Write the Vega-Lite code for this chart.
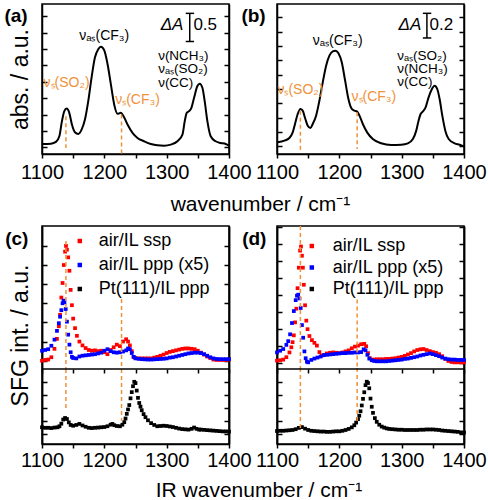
{
"$schema": "https://vega.github.io/schema/vega-lite/v6.json",
"background": "white",
"padding": {"left": 3, "top": 3, "right": 0, "bottom": 0},
"config": {
  "font": "Liberation Sans",
  "view": {"stroke": "black", "strokeWidth": 1.5},
  "axis": {"grid": false, "domainColor": "black", "domainWidth": 1.5, "tickColor": "black", "tickWidth": 1.5, "labelColor": "black", "titleColor": "black", "titleFontWeight": "normal", "labelFont": "Liberation Sans", "titleFont": "Liberation Sans"},
  "text": {"font": "Liberation Sans"}
},
"resolve": {"scale": {"color": "independent"}, "legend": {"color": "independent"}},
"bounds": "flush",
"columns": 2,
"spacing": {"row": 72, "column": 48},
"concat": [
 {
  "width": 187, "height": 150,
  "encoding": {"x": {"field": "x", "type": "quantitative", "scale": {"domain": [1100, 1400]},
     "axis": {"orient": "bottom", "values": [1100,1150,1200,1250,1300,1350,1400], "format": "d", "labelExpr": "datum.value % 100 === 0 ? datum.label : ''", "tickSize": 4, "labelFontSize": 20, "labelPadding": 4, "labelFlush": false, "labelOverlap": false, "labelBound": false, "title": "wavenumber / cm⁻¹", "titleFontSize": 21, "titleX": 218, "titlePadding": 11}}},
  "layer": [
   {"data": {"values": [{"x":1101,"y":0.102},{"x":1114.4,"y":0.112},{"x":1122.4,"y":0.164},{"x":1127.8,"y":0.337},{"x":1132,"y":0.798},{"x":1135.8,"y":1.104},{"x":1139.5,"y":1.186},{"x":1143.8,"y":1.053},{"x":1148,"y":0.695},{"x":1152.8,"y":0.46},{"x":1158.2,"y":0.409},{"x":1163.5,"y":0.542},{"x":1168.9,"y":0.849},{"x":1174.2,"y":1.411},{"x":1179.5,"y":2.127},{"x":1184.9,"y":2.74},{"x":1190.2,"y":2.996},{"x":1194.5,"y":3.067},{"x":1199.8,"y":2.965},{"x":1205.2,"y":2.536},{"x":1210.5,"y":1.922},{"x":1215.8,"y":1.309},{"x":1221.2,"y":1.022},{"x":1226.5,"y":1.053},{"x":1230.8,"y":0.951},{"x":1237.2,"y":0.695},{"x":1245.2,"y":0.44},{"x":1253.2,"y":0.286},{"x":1263.9,"y":0.184},{"x":1274.6,"y":0.102},{"x":1285.2,"y":0.061},{"x":1295.9,"y":0.051},{"x":1306.6,"y":0.082},{"x":1317.3,"y":0.184},{"x":1325.3,"y":0.389},{"x":1329,"y":0.798},{"x":1332.2,"y":1.053},{"x":1335.9,"y":1.104},{"x":1339.7,"y":1.207},{"x":1344,"y":1.513},{"x":1349.3,"y":1.871},{"x":1353,"y":1.943},{"x":1357.3,"y":1.82},{"x":1361,"y":1.411},{"x":1365.3,"y":0.798},{"x":1370.6,"y":0.337},{"x":1378.6,"y":0.184},{"x":1386.7,"y":0.133},{"x":1394.7,"y":0.102},{"x":1400,"y":0.051}]},
    "mark": {"type": "line", "color": "black", "strokeWidth": 2, "interpolate": "monotone"},
    "encoding": {"y": {"field": "y", "type": "quantitative", "scale": {"domain": [-0.2045, 4.376]}, "axis": {"orient": "left", "labels": false, "tickSize": -5, "values": [0,0.5,1,1.5,2,2.5,3,3.5,4], "title": "abs. / a.u.", "titleFontSize": 23, "titlePadding": 9}}}},
   {"data": {"values": [{"x":1138.4,"y":0.951,"y2":-0.02},{"x":1227.6,"y":1.002,"y2":-0.2045}]},
    "mark": {"type": "rule", "color": "#F0923A", "strokeWidth": 1.5, "strokeDash": [4, 3]},
    "encoding": {"y": {"field": "y", "type": "quantitative", "scale": {"domain": [-0.2045, 4.376]}, "axis": {"orient": "right", "labels": false, "tickSize": -5, "values": [0,0.5,1,1.5,2,2.5,3,3.5,4], "title": null}}, "y2": {"field": "y2"}}},
   {"data": {"values": [{"x":1139.5,"y":1.973,"t":"νₛ(SO₂)"},{"x":1253.2,"y":1.431,"t":"νₛ(CF₃)"}]},
    "mark": {"type": "text", "color": "#F0923A", "fontSize": 14, "align": "center", "baseline": "middle"},
    "encoding": {"y": {"field": "y", "type": "quantitative", "scale": {"domain": [-0.2045, 4.376]}, "axis": null}, "text": {"field": "t"}}},
   {"data": {"values": [{"x":1199.8,"y":3.405,"t":"νₐₛ(CF₃)"}]},
    "mark": {"type": "text", "color": "black", "fontSize": 14, "align": "center", "baseline": "middle"},
    "encoding": {"y": {"field": "y", "type": "quantitative", "scale": {"domain": [-0.2045, 4.376]}, "axis": null}, "text": {"field": "t"}}},
   {"data": {"values": [{"x":1286.3,"y":2.791,"t":"ν(NCH₃)"},{"x":1286.3,"y":2.382,"t":"νₐₛ(SO₂)"},{"x":1286.3,"y":1.973,"t":"ν(CC)"}]},
    "mark": {"type": "text", "color": "black", "fontSize": 13.5, "align": "left", "baseline": "middle"},
    "encoding": {"y": {"field": "y", "type": "quantitative", "scale": {"domain": [-0.2045, 4.376]}, "axis": null}, "text": {"field": "t"}}},
   {"data": {"values": [{"x":1326.9,"y":3.74,"t":"ΔA"}]},
    "mark": {"type": "text", "color": "black", "fontSize": 17, "fontStyle": "italic", "align": "right", "baseline": "middle"},
    "encoding": {"y": {"field": "y", "type": "quantitative", "scale": {"domain": [-0.2045, 4.376]}, "axis": null}, "text": {"field": "t"}}},
   {"data": {"values": [{"x":1342.9,"y":3.74,"t":"0.5"}]},
    "mark": {"type": "text", "color": "black", "fontSize": 17, "align": "left", "baseline": "middle"},
    "encoding": {"y": {"field": "y", "type": "quantitative", "scale": {"domain": [-0.2045, 4.376]}, "axis": null}, "text": {"field": "t"}}},
   {"data": {"values": [{"x":1337,"y":4.09,"y2":3.231}]},
    "mark": {"type": "rule", "color": "black", "strokeWidth": 1.5},
    "encoding": {"y": {"field": "y", "type": "quantitative", "scale": {"domain": [-0.2045, 4.376]}, "axis": null}, "y2": {"field": "y2"}}},
   {"data": {"values": [{"x":1330.6,"x2":1344,"y":4.09},{"x":1330.6,"x2":1344,"y":3.231}]},
    "mark": {"type": "rule", "color": "black", "strokeWidth": 1.5},
    "encoding": {"y": {"field": "y", "type": "quantitative", "scale": {"domain": [-0.2045, 4.376]}, "axis": null}, "x2": {"field": "x2"}}},
   {"data": {"values": [{"x":1058.3,"y":4.018,"t":"(a)"}]},
    "mark": {"type": "text", "color": "black", "fontSize": 19, "fontWeight": "bold", "align": "center", "baseline": "middle"},
    "encoding": {"y": {"field": "y", "type": "quantitative", "scale": {"domain": [-0.2045, 4.376]}, "axis": null}, "text": {"field": "t"}}}
  ],
  "resolve": {"axis": {"y": "independent"}}
 },
 {
  "width": 187, "height": 150,
  "encoding": {"x": {"field": "x", "type": "quantitative", "scale": {"domain": [1100, 1400]},
     "axis": {"orient": "bottom", "values": [1100,1150,1200,1250,1300,1350,1400], "format": "d", "labelExpr": "datum.value % 100 === 0 ? datum.label : ''", "tickSize": 4, "labelFontSize": 20, "labelPadding": 4, "labelFlush": false, "labelOverlap": false, "labelBound": false, "title": null}}},
  "layer": [
   {"data": {"values": [{"x":1101.1,"y":0.056},{"x":1111.8,"y":0.079},{"x":1119.8,"y":0.116},{"x":1125.2,"y":0.195},{"x":1128.9,"y":0.312},{"x":1133.2,"y":0.451},{"x":1137.5,"y":0.521},{"x":1141.2,"y":0.498},{"x":1145.5,"y":0.381},{"x":1149.3,"y":0.288},{"x":1153.6,"y":0.256},{"x":1157.3,"y":0.312},{"x":1162.7,"y":0.428},{"x":1168,"y":0.637},{"x":1173.4,"y":0.893},{"x":1178.8,"y":1.126},{"x":1184.1,"y":1.265},{"x":1189.5,"y":1.326},{"x":1193.7,"y":1.335},{"x":1198.6,"y":1.298},{"x":1203.9,"y":1.172},{"x":1209.3,"y":0.916},{"x":1214.6,"y":0.66},{"x":1220,"y":0.521},{"x":1224.3,"y":0.498},{"x":1228.6,"y":0.484},{"x":1232.3,"y":0.428},{"x":1237.7,"y":0.312},{"x":1244.6,"y":0.195},{"x":1253.7,"y":0.102},{"x":1267.1,"y":0.042},{"x":1283.2,"y":0.019},{"x":1299.3,"y":0.023},{"x":1310,"y":0.042},{"x":1318,"y":0.102},{"x":1323.4,"y":0.219},{"x":1327.1,"y":0.358},{"x":1330.4,"y":0.451},{"x":1334.1,"y":0.488},{"x":1338.4,"y":0.544},{"x":1343.2,"y":0.684},{"x":1348.6,"y":0.8},{"x":1352.9,"y":0.847},{"x":1357.1,"y":0.8},{"x":1360.9,"y":0.66},{"x":1365.2,"y":0.428},{"x":1370,"y":0.219},{"x":1375.4,"y":0.102},{"x":1385,"y":0.042},{"x":1393,"y":0.023},{"x":1400,"y":0.0}]},
    "mark": {"type": "line", "color": "black", "strokeWidth": 2, "interpolate": "monotone"},
    "encoding": {"y": {"field": "y", "type": "quantitative", "scale": {"domain": [-0.107, 1.986]}, "axis": {"orient": "left", "labels": false, "tickSize": -5, "values": [0,0.2,0.4,0.6,0.8,1,1.2,1.4,1.6,1.8], "title": null}}}},
   {"data": {"values": [{"x":1137.5,"y":0.498,"y2":-0.047},{"x":1228.6,"y":0.474,"y2":-0.037}]},
    "mark": {"type": "rule", "color": "#F0923A", "strokeWidth": 1.5, "strokeDash": [4, 3]},
    "encoding": {"y": {"field": "y", "type": "quantitative", "scale": {"domain": [-0.107, 1.986]}, "axis": {"orient": "right", "labels": false, "tickSize": -5, "values": [0,0.2,0.4,0.6,0.8,1,1.2,1.4,1.6,1.8], "title": null}}, "y2": {"field": "y2"}}},
   {"data": {"values": [{"x":1137.5,"y":0.786,"t":"νₛ(SO₂)"},{"x":1255.4,"y":0.684,"t":"νₛ(CF₃)"}]},
    "mark": {"type": "text", "color": "#F0923A", "fontSize": 14, "align": "center", "baseline": "middle"},
    "encoding": {"y": {"field": "y", "type": "quantitative", "scale": {"domain": [-0.107, 1.986]}, "axis": null}, "text": {"field": "t"}}},
   {"data": {"values": [{"x":1197.5,"y":1.474,"t":"νₐₛ(CF₃)"}]},
    "mark": {"type": "text", "color": "black", "fontSize": 14, "align": "center", "baseline": "middle"},
    "encoding": {"y": {"field": "y", "type": "quantitative", "scale": {"domain": [-0.107, 1.986]}, "axis": null}, "text": {"field": "t"}}},
   {"data": {"values": [{"x":1292.9,"y":1.265,"t":"νₐₛ(SO₂)"},{"x":1292.9,"y":1.079,"t":"ν(NCH₃)"},{"x":1292.9,"y":0.902,"t":"ν(CC)"}]},
    "mark": {"type": "text", "color": "black", "fontSize": 13.5, "align": "left", "baseline": "middle"},
    "encoding": {"y": {"field": "y", "type": "quantitative", "scale": {"domain": [-0.107, 1.986]}, "axis": null}, "text": {"field": "t"}}},
   {"data": {"values": [{"x":1331.4,"y":1.698,"t":"ΔA"}]},
    "mark": {"type": "text", "color": "black", "fontSize": 17, "fontStyle": "italic", "align": "right", "baseline": "middle"},
    "encoding": {"y": {"field": "y", "type": "quantitative", "scale": {"domain": [-0.107, 1.986]}, "axis": null}, "text": {"field": "t"}}},
   {"data": {"values": [{"x":1344.8,"y":1.698,"t":"0.2"}]},
    "mark": {"type": "text", "color": "black", "fontSize": 17, "align": "left", "baseline": "middle"},
    "encoding": {"y": {"field": "y", "type": "quantitative", "scale": {"domain": [-0.107, 1.986]}, "axis": null}, "text": {"field": "t"}}},
   {"data": {"values": [{"x":1340.5,"y":1.856,"y2":1.512}]},
    "mark": {"type": "rule", "color": "black", "strokeWidth": 1.5},
    "encoding": {"y": {"field": "y", "type": "quantitative", "scale": {"domain": [-0.107, 1.986]}, "axis": null}, "y2": {"field": "y2"}}},
   {"data": {"values": [{"x":1334,"x2":1347.5,"y":1.856},{"x":1334,"x2":1347.5,"y":1.512}]},
    "mark": {"type": "rule", "color": "black", "strokeWidth": 1.5},
    "encoding": {"y": {"field": "y", "type": "quantitative", "scale": {"domain": [-0.107, 1.986]}, "axis": null}, "x2": {"field": "x2"}}},
   {"data": {"values": [{"x":1062.3,"y":1.823,"t":"(b)"}]},
    "mark": {"type": "text", "color": "black", "fontSize": 19, "fontWeight": "bold", "align": "center", "baseline": "middle"},
    "encoding": {"y": {"field": "y", "type": "quantitative", "scale": {"domain": [-0.107, 1.986]}, "axis": null}, "text": {"field": "t"}}}
  ],
  "resolve": {"axis": {"y": "independent"}}
 },
 {
  "width": 187, "height": 218,
  "layer": [
    {"data": {"values": [
{"x":1100,"y":0.0,"s":"air/IL ssp"},{"x":1105,"y":0.02,"s":"air/IL ssp"},{"x":1110,"y":0.03,"s":"air/IL ssp"},{"x":1115,"y":0.09,"s":"air/IL ssp"},{"x":1120,"y":0.31,"s":"air/IL ssp"},{"x":1124,"y":0.57,"s":"air/IL ssp"},{"x":1127,"y":0.9,"s":"air/IL ssp"},{"x":1129,"y":1.2,"s":"air/IL ssp"},{"x":1131,"y":1.65,"s":"air/IL ssp"},{"x":1133,"y":2.03,"s":"air/IL ssp"},{"x":1135,"y":2.5,"s":"air/IL ssp"},{"x":1137,"y":2.85,"s":"air/IL ssp"},{"x":1138.5,"y":3.0,"s":"air/IL ssp"},{"x":1140,"y":2.9,"s":"air/IL ssp"},{"x":1142,"y":2.7,"s":"air/IL ssp"},{"x":1144,"y":2.35,"s":"air/IL ssp"},{"x":1146,"y":1.85,"s":"air/IL ssp"},{"x":1148,"y":1.45,"s":"air/IL ssp"},{"x":1150,"y":1.1,"s":"air/IL ssp"},{"x":1153,"y":0.85,"s":"air/IL ssp"},{"x":1156,"y":0.65,"s":"air/IL ssp"},{"x":1160,"y":0.5,"s":"air/IL ssp"},{"x":1165,"y":0.4,"s":"air/IL ssp"},{"x":1170,"y":0.33,"s":"air/IL ssp"},{"x":1175,"y":0.28,"s":"air/IL ssp"},{"x":1180,"y":0.26,"s":"air/IL ssp"},{"x":1185,"y":0.27,"s":"air/IL ssp"},{"x":1190,"y":0.25,"s":"air/IL ssp"},{"x":1195,"y":0.26,"s":"air/IL ssp"},{"x":1200,"y":0.22,"s":"air/IL ssp"},{"x":1205,"y":0.17,"s":"air/IL ssp"},{"x":1210,"y":0.28,"s":"air/IL ssp"},{"x":1215,"y":0.35,"s":"air/IL ssp"},{"x":1220,"y":0.42,"s":"air/IL ssp"},{"x":1225,"y":0.38,"s":"air/IL ssp"},{"x":1230,"y":0.5,"s":"air/IL ssp"},{"x":1235,"y":0.56,"s":"air/IL ssp"},{"x":1238,"y":0.5,"s":"air/IL ssp"},{"x":1241,"y":0.4,"s":"air/IL ssp"},{"x":1244,"y":0.25,"s":"air/IL ssp"},{"x":1247,"y":0.1,"s":"air/IL ssp"},{"x":1250,"y":0.07,"s":"air/IL ssp"},{"x":1255,"y":0.06,"s":"air/IL ssp"},{"x":1260,"y":0.06,"s":"air/IL ssp"},{"x":1265,"y":0.06,"s":"air/IL ssp"},{"x":1270,"y":0.06,"s":"air/IL ssp"},{"x":1275,"y":0.06,"s":"air/IL ssp"},{"x":1280,"y":0.08,"s":"air/IL ssp"},{"x":1285,"y":0.1,"s":"air/IL ssp"},{"x":1290,"y":0.13,"s":"air/IL ssp"},{"x":1295,"y":0.16,"s":"air/IL ssp"},{"x":1300,"y":0.2,"s":"air/IL ssp"},{"x":1305,"y":0.23,"s":"air/IL ssp"},{"x":1310,"y":0.25,"s":"air/IL ssp"},{"x":1315,"y":0.27,"s":"air/IL ssp"},{"x":1320,"y":0.29,"s":"air/IL ssp"},{"x":1325,"y":0.31,"s":"air/IL ssp"},{"x":1330,"y":0.32,"s":"air/IL ssp"},{"x":1335,"y":0.32,"s":"air/IL ssp"},{"x":1340,"y":0.31,"s":"air/IL ssp"},{"x":1345,"y":0.3,"s":"air/IL ssp"},{"x":1350,"y":0.26,"s":"air/IL ssp"},{"x":1355,"y":0.21,"s":"air/IL ssp"},{"x":1360,"y":0.16,"s":"air/IL ssp"},{"x":1365,"y":0.11,"s":"air/IL ssp"},{"x":1370,"y":0.07,"s":"air/IL ssp"},{"x":1375,"y":0.03,"s":"air/IL ssp"},{"x":1380,"y":0.02,"s":"air/IL ssp"},{"x":1385,"y":0.02,"s":"air/IL ssp"},{"x":1390,"y":0.02,"s":"air/IL ssp"},{"x":1395,"y":0.02,"s":"air/IL ssp"},{"x":1400,"y":0.03,"s":"air/IL ssp"},
{"x":1100,"y":0.26,"s":"air/IL ppp (x5)"},{"x":1105,"y":0.28,"s":"air/IL ppp (x5)"},{"x":1110,"y":0.3,"s":"air/IL ppp (x5)"},{"x":1115,"y":0.39,"s":"air/IL ppp (x5)"},{"x":1120,"y":0.55,"s":"air/IL ppp (x5)"},{"x":1124,"y":0.78,"s":"air/IL ppp (x5)"},{"x":1127,"y":0.98,"s":"air/IL ppp (x5)"},{"x":1129,"y":1.15,"s":"air/IL ppp (x5)"},{"x":1131,"y":1.32,"s":"air/IL ppp (x5)"},{"x":1133,"y":1.5,"s":"air/IL ppp (x5)"},{"x":1134.5,"y":1.57,"s":"air/IL ppp (x5)"},{"x":1136,"y":1.53,"s":"air/IL ppp (x5)"},{"x":1138,"y":1.35,"s":"air/IL ppp (x5)"},{"x":1140,"y":1.02,"s":"air/IL ppp (x5)"},{"x":1142,"y":0.68,"s":"air/IL ppp (x5)"},{"x":1144,"y":0.42,"s":"air/IL ppp (x5)"},{"x":1146,"y":0.22,"s":"air/IL ppp (x5)"},{"x":1148,"y":0.1,"s":"air/IL ppp (x5)"},{"x":1150,"y":0.07,"s":"air/IL ppp (x5)"},{"x":1155,"y":0.06,"s":"air/IL ppp (x5)"},{"x":1160,"y":0.11,"s":"air/IL ppp (x5)"},{"x":1165,"y":0.13,"s":"air/IL ppp (x5)"},{"x":1170,"y":0.14,"s":"air/IL ppp (x5)"},{"x":1175,"y":0.15,"s":"air/IL ppp (x5)"},{"x":1180,"y":0.16,"s":"air/IL ppp (x5)"},{"x":1185,"y":0.17,"s":"air/IL ppp (x5)"},{"x":1190,"y":0.19,"s":"air/IL ppp (x5)"},{"x":1195,"y":0.21,"s":"air/IL ppp (x5)"},{"x":1200,"y":0.26,"s":"air/IL ppp (x5)"},{"x":1205,"y":0.3,"s":"air/IL ppp (x5)"},{"x":1210,"y":0.25,"s":"air/IL ppp (x5)"},{"x":1215,"y":0.22,"s":"air/IL ppp (x5)"},{"x":1220,"y":0.21,"s":"air/IL ppp (x5)"},{"x":1225,"y":0.22,"s":"air/IL ppp (x5)"},{"x":1230,"y":0.24,"s":"air/IL ppp (x5)"},{"x":1235,"y":0.27,"s":"air/IL ppp (x5)"},{"x":1238,"y":0.32,"s":"air/IL ppp (x5)"},{"x":1241,"y":0.3,"s":"air/IL ppp (x5)"},{"x":1244,"y":0.2,"s":"air/IL ppp (x5)"},{"x":1247,"y":0.1,"s":"air/IL ppp (x5)"},{"x":1250,"y":0.06,"s":"air/IL ppp (x5)"},{"x":1255,"y":0.05,"s":"air/IL ppp (x5)"},{"x":1260,"y":0.04,"s":"air/IL ppp (x5)"},{"x":1265,"y":0.035,"s":"air/IL ppp (x5)"},{"x":1270,"y":0.03,"s":"air/IL ppp (x5)"},{"x":1275,"y":0.03,"s":"air/IL ppp (x5)"},{"x":1280,"y":0.035,"s":"air/IL ppp (x5)"},{"x":1285,"y":0.04,"s":"air/IL ppp (x5)"},{"x":1290,"y":0.045,"s":"air/IL ppp (x5)"},{"x":1295,"y":0.05,"s":"air/IL ppp (x5)"},{"x":1300,"y":0.06,"s":"air/IL ppp (x5)"},{"x":1305,"y":0.08,"s":"air/IL ppp (x5)"},{"x":1310,"y":0.09,"s":"air/IL ppp (x5)"},{"x":1315,"y":0.11,"s":"air/IL ppp (x5)"},{"x":1320,"y":0.13,"s":"air/IL ppp (x5)"},{"x":1325,"y":0.15,"s":"air/IL ppp (x5)"},{"x":1330,"y":0.17,"s":"air/IL ppp (x5)"},{"x":1335,"y":0.19,"s":"air/IL ppp (x5)"},{"x":1340,"y":0.2,"s":"air/IL ppp (x5)"},{"x":1345,"y":0.21,"s":"air/IL ppp (x5)"},{"x":1350,"y":0.21,"s":"air/IL ppp (x5)"},{"x":1355,"y":0.2,"s":"air/IL ppp (x5)"},{"x":1360,"y":0.17,"s":"air/IL ppp (x5)"},{"x":1365,"y":0.13,"s":"air/IL ppp (x5)"},{"x":1370,"y":0.09,"s":"air/IL ppp (x5)"},{"x":1375,"y":0.06,"s":"air/IL ppp (x5)"},{"x":1380,"y":0.045,"s":"air/IL ppp (x5)"},{"x":1385,"y":0.04,"s":"air/IL ppp (x5)"},{"x":1390,"y":0.04,"s":"air/IL ppp (x5)"},{"x":1395,"y":0.04,"s":"air/IL ppp (x5)"},{"x":1400,"y":0.04,"s":"air/IL ppp (x5)"}
     ]},
     "mark": {"type": "point", "shape": "square", "filled": true, "size": 14, "opacity": 1},
     "encoding": {
       "x": {"field": "x", "type": "quantitative", "scale": {"domain": [1100, 1400]},
         "axis": {"orient": "bottom", "values": [1100,1150,1200,1250,1300,1350,1400], "format": "d", "labelExpr": "datum.value % 100 === 0 ? datum.label : ''", "tickSize": 4, "labelFontSize": 20, "labelPadding": 2, "labelFlush": false, "labelOverlap": false, "labelBound": false, "title": "IR wavenumber / cm⁻¹", "titleFontSize": 21, "titleX": 216.5, "titlePadding": 9}},
       "y": {"field": "y", "type": "quantitative", "scale": {"domain": [-2.177, 3.52]}, "axis": {"orient": "left", "labels": false, "tickSize": -5, "values": [0,0.5,1,1.5,2,2.5,3], "title": "SFG int. / a.u.", "titleFontSize": 23, "titlePadding": 9, "titleY": 109}},
       "color": {"field": "s", "type": "nominal", "scale": {"domain": ["air/IL ssp", "air/IL ppp (x5)", "Pt(111)/IL ppp"], "range": ["#FF0000", "#0000FF", "#000000"]},
         "legend": {"title": null, "orient": "none", "legendX": 28.8, "legendY": 6, "symbolType": "square", "symbolSize": 20, "symbolStrokeWidth": 0, "labelFontSize": 18, "labelFont": "Liberation Sans", "labelColor": "black", "labelOffset": 10, "rowPadding": 6, "padding": 0}}
     }},
    {"data": {"values": [{"x":1138.4,"y":3.13,"y2":-0.217},{"x":1227.6,"y":1.61,"y2":-0.217}]},
     "mark": {"type": "rule", "color": "#F0923A", "strokeWidth": 1.5, "strokeDash": [4, 3]},
     "encoding": {
       "x": {"field": "x", "type": "quantitative", "scale": {"domain": [1100, 1400]}, "axis": {"orient": "top", "offset": -143, "values": [1100,1150,1200,1250,1300,1350,1400], "labels": false, "domain": false, "tickSize": -4, "title": null}},
       "y": {"field": "y", "type": "quantitative", "scale": {"domain": [-2.177, 3.52]}, "axis": {"orient": "right", "labels": false, "tickSize": -5, "values": [0,0.5,1,1.5,2,2.5,3], "title": null}}, "y2": {"field": "y2"}}},
    {"data": {"values": [{"x":1100,"y":0.26},{"x":1105,"y":0.24},{"x":1110,"y":0.24},{"x":1115,"y":0.23},{"x":1120,"y":0.25},{"x":1125,"y":0.26},{"x":1128,"y":0.3},{"x":1131,"y":0.4},{"x":1134,"y":0.56},{"x":1137,"y":0.62},{"x":1140,"y":0.58},{"x":1143,"y":0.45},{"x":1146,"y":0.35},{"x":1150,"y":0.32},{"x":1155,"y":0.35},{"x":1160,"y":0.39},{"x":1165,"y":0.33},{"x":1170,"y":0.28},{"x":1175,"y":0.24},{"x":1180,"y":0.23},{"x":1185,"y":0.24},{"x":1190,"y":0.25},{"x":1195,"y":0.26},{"x":1200,"y":0.27},{"x":1205,"y":0.3},{"x":1210,"y":0.36},{"x":1213,"y":0.39},{"x":1216,"y":0.34},{"x":1220,"y":0.31},{"x":1225,"y":0.3},{"x":1229,"y":0.36},{"x":1232,"y":0.46},{"x":1234,"y":0.6},{"x":1236,"y":0.78},{"x":1238,"y":0.95},{"x":1240,"y":1.12},{"x":1242,"y":1.38},{"x":1244,"y":1.62},{"x":1246,"y":1.85},{"x":1248,"y":2.02},{"x":1250,"y":1.97},{"x":1252,"y":1.68},{"x":1254,"y":1.4},{"x":1256,"y":1.2},{"x":1258,"y":1.06},{"x":1260,"y":0.92},{"x":1263,"y":0.77},{"x":1266,"y":0.65},{"x":1270,"y":0.53},{"x":1275,"y":0.42},{"x":1280,"y":0.35},{"x":1285,"y":0.3},{"x":1290,"y":0.31},{"x":1295,"y":0.32},{"x":1300,"y":0.31},{"x":1305,"y":0.29},{"x":1310,"y":0.27},{"x":1315,"y":0.24},{"x":1320,"y":0.21},{"x":1325,"y":0.19},{"x":1330,"y":0.18},{"x":1335,"y":0.17},{"x":1340,"y":0.2},{"x":1344,"y":0.25},{"x":1348,"y":0.2},{"x":1352,"y":0.17},{"x":1355,"y":0.17},{"x":1360,"y":0.16},{"x":1365,"y":0.15},{"x":1370,"y":0.14},{"x":1375,"y":0.13},{"x":1380,"y":0.12},{"x":1385,"y":0.11},{"x":1390,"y":0.1},{"x":1395,"y":0.1},{"x":1400,"y":0.09}]},
     "mark": {"type": "point", "shape": "square", "filled": true, "size": 14, "opacity": 1, "color": "black"},
     "encoding": {
       "x": {"field": "x", "type": "quantitative", "scale": {"domain": [1100, 1400]}, "axis": null},
       "y": {"field": "y", "type": "quantitative", "scale": {"domain": [-0.387, 8.051]}, "axis": {"orient": "left", "labels": false, "tickSize": -5, "values": [0,0.5,1,1.5,2], "title": null}}}},
    {"data": {"values": [{"x":1138.4,"y":2.516,"y2":0.968},{"x":1227.6,"y":2.516,"y2":0.516}]},
     "mark": {"type": "rule", "color": "#F0923A", "strokeWidth": 1.5, "strokeDash": [4, 3]},
     "encoding": {
       "x": {"field": "x", "type": "quantitative", "scale": {"domain": [1100, 1400]}, "axis": null},
       "y": {"field": "y", "type": "quantitative", "scale": {"domain": [-0.387, 8.051]}, "axis": {"orient": "right", "labels": false, "tickSize": -5, "values": [0,0.5,1,1.5,2], "title": null}}, "y2": {"field": "y2"}}},
    {"data": {"values": [{"y":-0.217}]},
     "mark": {"type": "rule", "color": "black", "strokeWidth": 1.5},
     "encoding": {"y": {"field": "y", "type": "quantitative", "scale": {"domain": [-2.177, 3.52]}, "axis": null}}},
    {"data": {"values": [{"x":1059.6,"y":3.193,"t":"(c)"}]},
     "mark": {"type": "text", "color": "black", "fontSize": 19, "fontWeight": "bold", "align": "center", "baseline": "middle"},
     "encoding": {
       "x": {"field": "x", "type": "quantitative", "scale": {"domain": [1100, 1400]}, "axis": null},
       "y": {"field": "y", "type": "quantitative", "scale": {"domain": [-2.177, 3.52]}, "axis": null}, "text": {"field": "t"}}}
  ],
  "resolve": {"scale": {"y": "independent"}, "axis": {"x": "independent", "y": "independent"}}
 },
 {
  "width": 187, "height": 218,
  "layer": [
    {"data": {"values": [
{"x":1100,"y":0.08,"s":"air/IL ssp"},{"x":1105,"y":0.09,"s":"air/IL ssp"},{"x":1110,"y":0.11,"s":"air/IL ssp"},{"x":1115,"y":0.18,"s":"air/IL ssp"},{"x":1120,"y":0.32,"s":"air/IL ssp"},{"x":1123,"y":0.47,"s":"air/IL ssp"},{"x":1125,"y":0.62,"s":"air/IL ssp"},{"x":1127,"y":0.82,"s":"air/IL ssp"},{"x":1129,"y":1.2,"s":"air/IL ssp"},{"x":1131,"y":1.6,"s":"air/IL ssp"},{"x":1133,"y":2.2,"s":"air/IL ssp"},{"x":1135,"y":2.8,"s":"air/IL ssp"},{"x":1137,"y":3.3,"s":"air/IL ssp"},{"x":1138.5,"y":3.42,"s":"air/IL ssp"},{"x":1140,"y":3.15,"s":"air/IL ssp"},{"x":1141.5,"y":2.8,"s":"air/IL ssp"},{"x":1143,"y":2.3,"s":"air/IL ssp"},{"x":1145,"y":1.7,"s":"air/IL ssp"},{"x":1147,"y":1.25,"s":"air/IL ssp"},{"x":1149,"y":1.0,"s":"air/IL ssp"},{"x":1152,"y":0.8,"s":"air/IL ssp"},{"x":1156,"y":0.68,"s":"air/IL ssp"},{"x":1160,"y":0.6,"s":"air/IL ssp"},{"x":1164,"y":0.52,"s":"air/IL ssp"},{"x":1168,"y":0.33,"s":"air/IL ssp"},{"x":1172,"y":0.23,"s":"air/IL ssp"},{"x":1176,"y":0.25,"s":"air/IL ssp"},{"x":1180,"y":0.29,"s":"air/IL ssp"},{"x":1185,"y":0.31,"s":"air/IL ssp"},{"x":1190,"y":0.32,"s":"air/IL ssp"},{"x":1195,"y":0.31,"s":"air/IL ssp"},{"x":1200,"y":0.3,"s":"air/IL ssp"},{"x":1205,"y":0.32,"s":"air/IL ssp"},{"x":1210,"y":0.35,"s":"air/IL ssp"},{"x":1215,"y":0.38,"s":"air/IL ssp"},{"x":1220,"y":0.44,"s":"air/IL ssp"},{"x":1225,"y":0.49,"s":"air/IL ssp"},{"x":1230,"y":0.52,"s":"air/IL ssp"},{"x":1235,"y":0.56,"s":"air/IL ssp"},{"x":1240,"y":0.57,"s":"air/IL ssp"},{"x":1243,"y":0.5,"s":"air/IL ssp"},{"x":1246,"y":0.3,"s":"air/IL ssp"},{"x":1249,"y":0.15,"s":"air/IL ssp"},{"x":1252,"y":0.11,"s":"air/IL ssp"},{"x":1256,"y":0.11,"s":"air/IL ssp"},{"x":1260,"y":0.12,"s":"air/IL ssp"},{"x":1265,"y":0.12,"s":"air/IL ssp"},{"x":1270,"y":0.12,"s":"air/IL ssp"},{"x":1275,"y":0.13,"s":"air/IL ssp"},{"x":1280,"y":0.13,"s":"air/IL ssp"},{"x":1285,"y":0.14,"s":"air/IL ssp"},{"x":1290,"y":0.15,"s":"air/IL ssp"},{"x":1295,"y":0.17,"s":"air/IL ssp"},{"x":1300,"y":0.19,"s":"air/IL ssp"},{"x":1305,"y":0.22,"s":"air/IL ssp"},{"x":1310,"y":0.26,"s":"air/IL ssp"},{"x":1315,"y":0.3,"s":"air/IL ssp"},{"x":1320,"y":0.35,"s":"air/IL ssp"},{"x":1325,"y":0.39,"s":"air/IL ssp"},{"x":1330,"y":0.41,"s":"air/IL ssp"},{"x":1335,"y":0.42,"s":"air/IL ssp"},{"x":1340,"y":0.39,"s":"air/IL ssp"},{"x":1345,"y":0.36,"s":"air/IL ssp"},{"x":1350,"y":0.33,"s":"air/IL ssp"},{"x":1355,"y":0.31,"s":"air/IL ssp"},{"x":1360,"y":0.27,"s":"air/IL ssp"},{"x":1365,"y":0.21,"s":"air/IL ssp"},{"x":1370,"y":0.13,"s":"air/IL ssp"},{"x":1375,"y":0.07,"s":"air/IL ssp"},{"x":1380,"y":0.04,"s":"air/IL ssp"},{"x":1385,"y":0.03,"s":"air/IL ssp"},{"x":1390,"y":0.03,"s":"air/IL ssp"},{"x":1395,"y":0.03,"s":"air/IL ssp"},{"x":1400,"y":0.03,"s":"air/IL ssp"},
{"x":1100,"y":0.32,"s":"air/IL ppp (x5)"},{"x":1105,"y":0.37,"s":"air/IL ppp (x5)"},{"x":1110,"y":0.42,"s":"air/IL ppp (x5)"},{"x":1115,"y":0.54,"s":"air/IL ppp (x5)"},{"x":1118,"y":0.65,"s":"air/IL ppp (x5)"},{"x":1121,"y":0.85,"s":"air/IL ppp (x5)"},{"x":1124,"y":1.18,"s":"air/IL ppp (x5)"},{"x":1127,"y":1.53,"s":"air/IL ppp (x5)"},{"x":1130,"y":1.85,"s":"air/IL ppp (x5)"},{"x":1132,"y":1.98,"s":"air/IL ppp (x5)"},{"x":1134,"y":2.01,"s":"air/IL ppp (x5)"},{"x":1136,"y":1.9,"s":"air/IL ppp (x5)"},{"x":1138,"y":1.62,"s":"air/IL ppp (x5)"},{"x":1140,"y":1.12,"s":"air/IL ppp (x5)"},{"x":1142,"y":0.75,"s":"air/IL ppp (x5)"},{"x":1144,"y":0.35,"s":"air/IL ppp (x5)"},{"x":1146,"y":0.15,"s":"air/IL ppp (x5)"},{"x":1148,"y":0.05,"s":"air/IL ppp (x5)"},{"x":1150,"y":0.03,"s":"air/IL ppp (x5)"},{"x":1155,"y":0.1,"s":"air/IL ppp (x5)"},{"x":1160,"y":0.14,"s":"air/IL ppp (x5)"},{"x":1165,"y":0.17,"s":"air/IL ppp (x5)"},{"x":1170,"y":0.2,"s":"air/IL ppp (x5)"},{"x":1175,"y":0.24,"s":"air/IL ppp (x5)"},{"x":1180,"y":0.25,"s":"air/IL ppp (x5)"},{"x":1185,"y":0.26,"s":"air/IL ppp (x5)"},{"x":1190,"y":0.27,"s":"air/IL ppp (x5)"},{"x":1195,"y":0.28,"s":"air/IL ppp (x5)"},{"x":1200,"y":0.29,"s":"air/IL ppp (x5)"},{"x":1205,"y":0.3,"s":"air/IL ppp (x5)"},{"x":1210,"y":0.3,"s":"air/IL ppp (x5)"},{"x":1215,"y":0.31,"s":"air/IL ppp (x5)"},{"x":1220,"y":0.31,"s":"air/IL ppp (x5)"},{"x":1225,"y":0.32,"s":"air/IL ppp (x5)"},{"x":1230,"y":0.32,"s":"air/IL ppp (x5)"},{"x":1235,"y":0.33,"s":"air/IL ppp (x5)"},{"x":1239,"y":0.41,"s":"air/IL ppp (x5)"},{"x":1242,"y":0.38,"s":"air/IL ppp (x5)"},{"x":1245,"y":0.25,"s":"air/IL ppp (x5)"},{"x":1248,"y":0.14,"s":"air/IL ppp (x5)"},{"x":1252,"y":0.09,"s":"air/IL ppp (x5)"},{"x":1256,"y":0.07,"s":"air/IL ppp (x5)"},{"x":1260,"y":0.06,"s":"air/IL ppp (x5)"},{"x":1265,"y":0.06,"s":"air/IL ppp (x5)"},{"x":1270,"y":0.06,"s":"air/IL ppp (x5)"},{"x":1275,"y":0.06,"s":"air/IL ppp (x5)"},{"x":1280,"y":0.07,"s":"air/IL ppp (x5)"},{"x":1285,"y":0.08,"s":"air/IL ppp (x5)"},{"x":1290,"y":0.09,"s":"air/IL ppp (x5)"},{"x":1295,"y":0.1,"s":"air/IL ppp (x5)"},{"x":1300,"y":0.11,"s":"air/IL ppp (x5)"},{"x":1305,"y":0.13,"s":"air/IL ppp (x5)"},{"x":1310,"y":0.14,"s":"air/IL ppp (x5)"},{"x":1315,"y":0.16,"s":"air/IL ppp (x5)"},{"x":1320,"y":0.18,"s":"air/IL ppp (x5)"},{"x":1325,"y":0.2,"s":"air/IL ppp (x5)"},{"x":1330,"y":0.23,"s":"air/IL ppp (x5)"},{"x":1335,"y":0.25,"s":"air/IL ppp (x5)"},{"x":1340,"y":0.27,"s":"air/IL ppp (x5)"},{"x":1345,"y":0.29,"s":"air/IL ppp (x5)"},{"x":1350,"y":0.27,"s":"air/IL ppp (x5)"},{"x":1355,"y":0.24,"s":"air/IL ppp (x5)"},{"x":1360,"y":0.21,"s":"air/IL ppp (x5)"},{"x":1365,"y":0.17,"s":"air/IL ppp (x5)"},{"x":1370,"y":0.14,"s":"air/IL ppp (x5)"},{"x":1375,"y":0.12,"s":"air/IL ppp (x5)"},{"x":1380,"y":0.11,"s":"air/IL ppp (x5)"},{"x":1385,"y":0.11,"s":"air/IL ppp (x5)"},{"x":1390,"y":0.1,"s":"air/IL ppp (x5)"},{"x":1395,"y":0.1,"s":"air/IL ppp (x5)"},{"x":1400,"y":0.1,"s":"air/IL ppp (x5)"}
     ]},
     "mark": {"type": "point", "shape": "square", "filled": true, "size": 14, "opacity": 1},
     "encoding": {
       "x": {"field": "x", "type": "quantitative", "scale": {"domain": [1100, 1400]},
         "axis": {"orient": "bottom", "values": [1100,1150,1200,1250,1300,1350,1400], "format": "d", "labelExpr": "datum.value % 100 === 0 ? datum.label : ''", "tickSize": 4, "labelFontSize": 20, "labelPadding": 2, "labelFlush": false, "labelOverlap": false, "labelBound": false, "title": null}},
       "y": {"field": "y", "type": "quantitative", "scale": {"domain": [-2.36, 4.02]}, "axis": {"orient": "left", "labels": false, "tickSize": -5, "values": [0,0.5,1,1.5,2,2.5,3,3.5,4], "title": null}},
       "color": {"field": "s", "type": "nominal", "scale": {"domain": ["air/IL ssp", "air/IL ppp (x5)", "Pt(111)/IL ppp"], "range": ["#FF0000", "#0000FF", "#000000"]},
         "legend": {"title": null, "orient": "none", "legendX": 25.8, "legendY": 11, "symbolType": "square", "symbolSize": 20, "symbolStrokeWidth": 0, "labelFontSize": 18, "labelFont": "Liberation Sans", "labelColor": "black", "labelOffset": 12, "rowPadding": 3.5, "padding": 0}}
     }},
    {"data": {"values": [{"x":1137.5,"y":4.02,"y2":-0.165},{"x":1228.6,"y":1.87,"y2":-0.165}]},
     "mark": {"type": "rule", "color": "#F0923A", "strokeWidth": 1.5, "strokeDash": [4, 3]},
     "encoding": {
       "x": {"field": "x", "type": "quantitative", "scale": {"domain": [1100, 1400]}, "axis": {"orient": "top", "offset": -143, "values": [1100,1150,1200,1250,1300,1350,1400], "labels": false, "domain": false, "tickSize": -4, "title": null}},
       "y": {"field": "y", "type": "quantitative", "scale": {"domain": [-2.36, 4.02]}, "axis": {"orient": "right", "labels": false, "tickSize": -5, "values": [0,0.5,1,1.5,2,2.5,3,3.5,4], "title": null}}, "y2": {"field": "y2"}}},
    {"data": {"values": [{"x":1100,"y":0.13},{"x":1105,"y":0.14},{"x":1110,"y":0.14},{"x":1115,"y":0.15},{"x":1120,"y":0.16},{"x":1125,"y":0.17},{"x":1130,"y":0.2},{"x":1135,"y":0.25},{"x":1140,"y":0.28},{"x":1145,"y":0.22},{"x":1150,"y":0.17},{"x":1155,"y":0.14},{"x":1160,"y":0.13},{"x":1165,"y":0.12},{"x":1170,"y":0.11},{"x":1175,"y":0.11},{"x":1180,"y":0.1},{"x":1185,"y":0.1},{"x":1190,"y":0.11},{"x":1195,"y":0.12},{"x":1200,"y":0.12},{"x":1205,"y":0.14},{"x":1210,"y":0.17},{"x":1215,"y":0.21},{"x":1220,"y":0.27},{"x":1224,"y":0.35},{"x":1227,"y":0.45},{"x":1230,"y":0.58},{"x":1232,"y":0.71},{"x":1234,"y":0.88},{"x":1236,"y":1.1},{"x":1238,"y":1.35},{"x":1240,"y":1.6},{"x":1242,"y":1.87},{"x":1244,"y":2.0},{"x":1246,"y":1.95},{"x":1248,"y":1.75},{"x":1250,"y":1.36},{"x":1252,"y":1.05},{"x":1254,"y":0.82},{"x":1257,"y":0.62},{"x":1260,"y":0.48},{"x":1264,"y":0.37},{"x":1268,"y":0.3},{"x":1272,"y":0.26},{"x":1276,"y":0.23},{"x":1280,"y":0.21},{"x":1285,"y":0.2},{"x":1290,"y":0.19},{"x":1295,"y":0.18},{"x":1300,"y":0.18},{"x":1305,"y":0.17},{"x":1310,"y":0.17},{"x":1315,"y":0.17},{"x":1320,"y":0.17},{"x":1325,"y":0.17},{"x":1330,"y":0.18},{"x":1335,"y":0.18},{"x":1340,"y":0.19},{"x":1345,"y":0.19},{"x":1350,"y":0.19},{"x":1355,"y":0.18},{"x":1360,"y":0.17},{"x":1365,"y":0.15},{"x":1370,"y":0.14},{"x":1375,"y":0.13},{"x":1380,"y":0.12},{"x":1385,"y":0.11},{"x":1390,"y":0.1},{"x":1395,"y":0.08},{"x":1400,"y":0.07}]},
     "mark": {"type": "point", "shape": "square", "filled": true, "size": 14, "opacity": 1, "color": "black"},
     "encoding": {
       "x": {"field": "x", "type": "quantitative", "scale": {"domain": [1100, 1400]}, "axis": null},
       "y": {"field": "y", "type": "quantitative", "scale": {"domain": [-0.361, 7.9015]}, "axis": {"orient": "left", "labels": false, "tickSize": -5, "values": [0,0.5,1,1.5,2], "title": null}}}},
    {"data": {"values": [{"x":1137.5,"y":2.516,"y2":0.19},{"x":1228.6,"y":2.516,"y2":0.45}]},
     "mark": {"type": "rule", "color": "#F0923A", "strokeWidth": 1.5, "strokeDash": [4, 3]},
     "encoding": {
       "x": {"field": "x", "type": "quantitative", "scale": {"domain": [1100, 1400]}, "axis": null},
       "y": {"field": "y", "type": "quantitative", "scale": {"domain": [-0.361, 7.9015]}, "axis": {"orient": "right", "labels": false, "tickSize": -5, "values": [0,0.5,1,1.5,2], "title": null}}, "y2": {"field": "y2"}}},
    {"data": {"values": [{"y":-0.165}]},
     "mark": {"type": "rule", "color": "black", "strokeWidth": 1.5},
     "encoding": {"y": {"field": "y", "type": "quantitative", "scale": {"domain": [-2.36, 4.02]}, "axis": null}}},
    {"data": {"values": [{"x":1063.6,"y":3.654,"t":"(d)"}]},
     "mark": {"type": "text", "color": "black", "fontSize": 19, "fontWeight": "bold", "align": "center", "baseline": "middle"},
     "encoding": {
       "x": {"field": "x", "type": "quantitative", "scale": {"domain": [1100, 1400]}, "axis": null},
       "y": {"field": "y", "type": "quantitative", "scale": {"domain": [-2.36, 4.02]}, "axis": null}, "text": {"field": "t"}}}
  ],
  "resolve": {"scale": {"y": "independent"}, "axis": {"x": "independent", "y": "independent"}}
 }
]
}
